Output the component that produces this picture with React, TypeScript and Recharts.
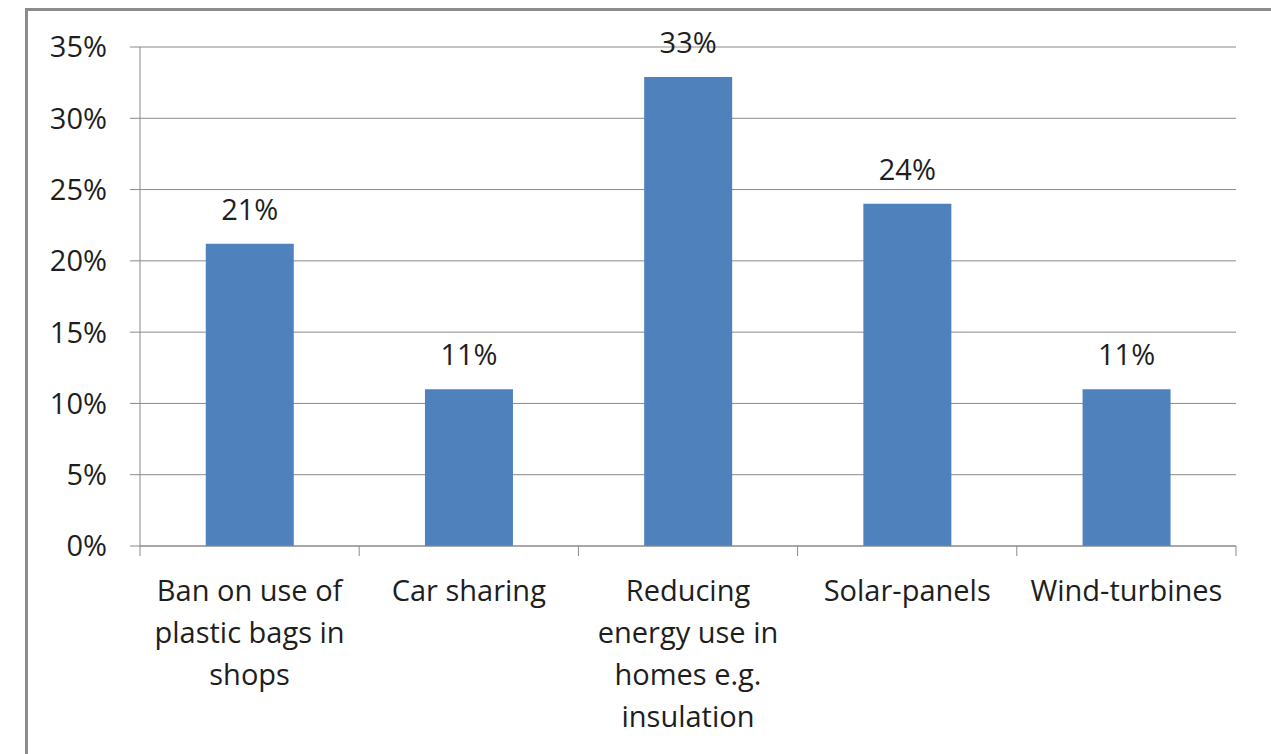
import React from 'react'
import { BarChart, Bar, XAxis, YAxis, CartesianGrid, LabelList } from 'recharts'

// survey answers (share of respondents)
const categories = ['Ban on use of plastic bags in shops', 'Car sharing', 'Reducing energy use in homes e.g. insulation', 'Solar-panels', 'Wind-turbines']
const tickLines = [
  ['Ban on use of', 'plastic bags in', 'shops'],
  ['Car sharing'],
  ['Reducing', 'energy use in', 'homes e.g.', 'insulation'],
  ['Solar-panels'],
  ['Wind-turbines'],
]
const shares = [0.212, 0.11, 0.329, 0.24, 0.11]
const shareLabels = ['21%', '11%', '33%', '24%', '11%']
const yTicks = [0, 0.05, 0.1, 0.15, 0.2, 0.25, 0.3, 0.35]

const data = categories.map((name, i) => ({ name, share: shares[i], label: shareLabels[i] }))

const FONT = '"Open Sans", sans-serif'
const FS = 29
const TEXT = '#1e1e1e'
const GRID = '#8a8a8a'

const YTick = (props: any) => {
  const { x, y, payload } = props
  const label = `${Math.round(payload.value * 100)}%`
  return (
    <text x={x} y={y} dy="0.36em" textAnchor="end" fontFamily={FONT} fontSize={FS} fill={TEXT}>
      {label}
    </text>
  )
}

const XTick = (props: any) => {
  const { x, y, payload, index, visibleTicksCount } = props
  const half = payload?.offset || 109.6
  const lines = tickLines[index] || [String(payload.value)]
  return (
    <g>
      <line x1={x - half} x2={x - half} y1={y} y2={y + 10} stroke={GRID} />
      {index === visibleTicksCount - 1 && <line x1={x + half} x2={x + half} y1={y} y2={y + 10} stroke={GRID} />}
      {lines.map((ln: string, i: number) => (
        <text key={i} x={x} y={y + 55 + i * 42} textAnchor="middle" fontFamily={FONT} fontSize={FS} fill={TEXT}>
          {ln}
        </text>
      ))}
    </g>
  )
}

const BarLabel = (props: any) => {
  const { x, y, width, index } = props
  return (
    <text x={x + width / 2} y={y - 24} textAnchor="middle" fontFamily={FONT} fontSize={FS} fill={TEXT}>
      {shareLabels[index]}
    </text>
  )
}

export default function App() {
  return (
    <div style={{ position: 'absolute', left: 0, top: 0, width: 1271, height: 754, background: '#fff', overflow: 'hidden' }}>
      {/* chart frame */}
      <div
        style={{
          position: 'absolute',
          left: 25,
          top: 8,
          width: 1244,
          height: 800,
          borderLeft: '3px solid #8c8c8c',
          borderTop: '3px solid #8c8c8c',
          borderRight: '1px solid #c4c4c4',
        }}
      />
      <div style={{ position: 'absolute', left: 0, top: 0 }}>
        <BarChart width={1271} height={754} data={data} margin={{ top: 47, right: 35, bottom: 0, left: 0 }} barCategoryGap="30%">
          <CartesianGrid vertical={false} stroke={GRID} />
          <YAxis
            width={140}
            domain={[0, 0.35]}
            ticks={yTicks}
            interval={0}
            axisLine={{ stroke: GRID }}
            tickLine={{ stroke: GRID }}
            tickSize={10}
            tickMargin={23}
            tick={<YTick />}
          />
          <XAxis
            dataKey="name"
            interval={0}
            axisLine={{ stroke: GRID }}
            tickLine={false}
            tickSize={0}
            tickMargin={0}
            height={208}
            tick={<XTick />}
          />
          <Bar dataKey="share" fill="#4f81bd" isAnimationActive={false}>
            <LabelList dataKey="label" content={<BarLabel />} />
          </Bar>
        </BarChart>
      </div>
    </div>
  )
}
